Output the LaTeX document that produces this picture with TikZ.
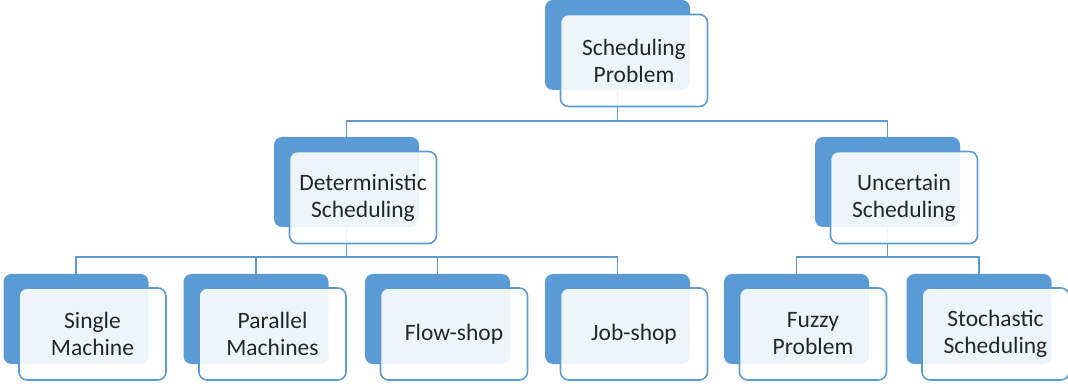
\documentclass[tikz,border=0pt]{standalone}
\usepackage{fontspec}
\setmainfont{Carlito}
\definecolor{accent}{HTML}{5B9BD5}
\definecolor{txt}{HTML}{262626}
\begin{document}
\begin{tikzpicture}[x=1pt,y=-1pt,
  backbox/.style={rectangle, rounded corners=8pt, fill=accent, minimum width=145pt, minimum height=90pt, inner sep=0pt},
  frontbox/.style={rectangle, rounded corners=8pt, draw=accent, line width=1.6pt, fill=white, fill opacity=0.9, text opacity=1, minimum width=147pt, minimum height=92pt, inner sep=0pt, align=center, text=txt, font=\fontsize{23.5}{27}\selectfont},
  conn/.style={draw=accent, line width=1.6pt}]
\useasboundingbox (0,0) rectangle (1068,387);
% back boxes
\node[backbox] (bTop) at (617.5,45) {};
\node[backbox] (bDet) at (346.5,182) {};
\node[backbox] (bUnc) at (887.5,182) {};
\node[backbox] (bSin) at (76,319) {};
\node[backbox] (bPar) at (256,319) {};
\node[backbox] (bFlo) at (437.5,319) {};
\node[backbox] (bJob) at (617.5,319) {};
\node[backbox] (bFuz) at (796.5,319) {};
\node[backbox] (bSto) at (979,319) {};
% connectors
\draw[conn] (bTop.south) -- ++(0,31) -| (bDet.north);
\draw[conn] (bTop.south) -- ++(0,31) -| (bUnc.north);
\foreach \n in {bSin,bPar,bFlo,bJob}{
  \draw[conn] (bDet.south) -- ++(0,30) -| (\n.north);
}
\foreach \n in {bFuz,bSto}{
  \draw[conn] (bUnc.south) -- ++(0,30) -| (\n.north);
}
% front boxes
\node[frontbox] (fTop) at ([shift={(16.5,15.5)}]bTop.center) {Scheduling\\Problem};
\node[frontbox] (fDet) at ([shift={(16.5,15.5)}]bDet.center) {Deterministic\\Scheduling};
\node[frontbox] (fUnc) at ([shift={(16.5,15.5)}]bUnc.center) {Uncertain\\Scheduling};
\node[frontbox] (fSin) at ([shift={(16.5,15)}]bSin.center) {Single\\Machine};
\node[frontbox] (fPar) at ([shift={(16.5,15)}]bPar.center) {Parallel\\Machines};
\node[frontbox] (fFlo) at ([shift={(16.5,15)}]bFlo.center) {Flow-shop};
\node[frontbox] (fJob) at ([shift={(16.5,15)}]bJob.center) {Job-shop};
\node[frontbox] (fFuz) at ([shift={(16.5,15)}]bFuz.center) {Fuzzy\\Problem};
\node[frontbox] (fSto) at ([shift={(16.5,15)}]bSto.center) {Stochastic\\Scheduling};
\end{tikzpicture}
\end{document}
